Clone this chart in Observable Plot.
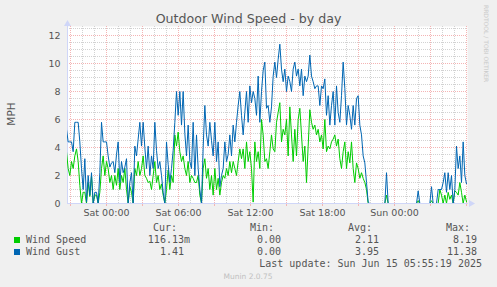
<!DOCTYPE html>
<html>
<head>
<meta charset="utf-8">
<script src="https://cdn.jsdelivr.net/npm/d3@7"></script>
<script src="https://cdn.jsdelivr.net/npm/@observablehq/plot@0.6"></script>
<style>
  html, body { margin: 0; padding: 0; background: #F0F0F0; }
  #chart { width: 497px; height: 287px; background: #F0F0F0; }
  svg { display: block; overflow: visible; }
</style>
</head>
<body>
<div id="chart"></div>
<script>
// ---- Data (MPH), one sample every 5/36 h, starting Fri 20:40 ----
const startHour = -40 / 12;   // hours relative to Sat 00:00
const stepHours = 5 / 36;

const speedMph = [
  3.7,2.5,2.0,3.0,2.5,3.4,3.9,3.0,1.3,0,
  0.8,0.8,0,1.5,0.5,2.0,0,0.6,0.6,0,
  0.8,2.5,3.4,2.0,3.0,2.5,1.5,2.0,1.0,2.0,
  1.3,2.5,1.0,2.0,1.5,2.5,1.0,0,1.2,0.8,
  0,2.5,2.0,3.0,2.0,2.5,3.4,2.0,1.8,1.5,
  1.6,1.0,2.0,3.0,1.5,2.0,1.0,1.4,0.6,0,
  1.0,2.4,1.0,2.0,1.5,4.9,4.1,5.1,3.7,3.0,
  3.4,2.5,2.0,3.0,1.5,2.0,1.8,1.5,1.5,2.0,
  0.6,0,2.5,3.2,1.8,2.5,1.0,2.0,0.6,2.5,
  1.0,1.8,0.6,1.5,2.0,1.8,2.5,2.0,3.0,2.2,
  3.0,2.5,2.0,3.0,3.9,3.2,3.9,2.5,4.4,3.0,
  3.7,2.5,0.1,4.4,3.0,3.7,2.5,6.0,4.9,3.0,
  3.2,
  2.5,3.7,4.9,3.9,3.7,5.8,6.5,7.2,4.4,5.3,4.9,6.0,3.4,6.9,4.9,3.0,5.3,3.4,6.0,6.8,
  4.9,3.0,4.1,1.5,4.1,6.7,5.8,5.3,5.6,4.9,5.3,4.4,4.9,3.9,6.0,3.7,4.1,3.9,4.4,4.6,
  4.9,4.1,4.6,3.2,2.5,3.7,4.4,2.5,3.7,2.9,4.4,2.5,1.5,2.9,2.5,1.8,2.2,1.8,1.5,1.0,
  0,0,0,0,0,0,0,0,0,0,0,0.6,0,0,0,0,0,0,0,0,
  0,0,0,0,0,0,0,0,0,0,0.2,0,0,0,0,0,0,0,0.2,0,
  0,0,0,1.0,0.6,0,0.6,0,0.8,0.3,0.6,0,0.9,0.8,0.6,1.5,0.8,0,0.6,0.12
];

const gustMph = [
  5.3,4.4,4.4,4.4,3.7,5.8,5.8,5.8,4.4,2.5,
  1.0,3.2,0.1,2.0,0.6,2.2,0,0.8,0.8,0,
  2.2,5.8,4.4,4.4,4.4,3.4,2.6,2.9,3.0,2.2,
  3.5,4.4,1.5,3.0,2.2,2.6,3.2,0,1.5,2.2,
  0,4.1,3.4,4.6,5.8,4.1,5.8,4.0,2.5,4.1,
  2.0,3.4,2.5,5.8,3.8,2.5,3.0,2.0,0.8,0,
  4.4,2.8,1.5,2.5,3.8,5.8,8.0,6.3,8.0,5.6,
  8.0,5.0,3.4,5.6,3.0,2.5,5.8,2.0,4.9,2.5,
  1.0,0,4.0,7.0,4.9,4.1,5.8,4.5,3.4,5.8,
  3.0,4.4,1.2,2.0,2.5,4.4,3.0,3.5,4.9,3.4,
  5.6,4.4,5.8,7.0,8.0,6.3,4.9,6.5,8.0,5.8,
  8.4,7.2,8.0,7.5,6.3,9.1,5.8,8.0,9.5,10.1,
  6.8,
  7.0,5.8,6.9,9.1,10.1,9.0,10.3,11.38,9.6,8.7,9.6,8.0,9.1,8.7,8.0,9.6,10.1,9.1,9.6,8.4,
  9.6,7.7,9.1,8.7,9.1,10.6,9.1,8.7,8.2,8.4,8.4,7.0,8.4,8.2,8.9,6.3,7.7,5.6,7.0,8.0,
  5.6,8.4,6.5,5.8,7.7,10.1,8.2,5.6,7.0,6.3,5.3,7.0,5.6,7.5,7.7,5.6,4.9,3.4,2.9,1.5,
  0.1,0,0,0,0,0,0,0,0,0,0,2.2,0,0,0,0,0,0,0,0,
  0,0,0,0,0,0,0,0,0,0,0.9,0,0,0,0,0,0,0,1.2,0,
  0,0,1.0,1.0,1.0,1.5,2.2,0.8,2.2,1.0,2.0,0,1.0,4.1,2.5,3.4,1.5,4.4,2.0,1.41
];

// ---- Axis ticks & labels ----
const xTickHours = [0, 6, 12, 18, 24];
const xTickLabels = ["Sat 00:00", "Sat 06:00", "Sat 12:00", "Sat 18:00", "Sun 00:00"];
const yTicks = [0, 2, 4, 6, 8, 10, 12];

// ---- Legend ----
const seriesNames = ["Wind Speed", "Wind Gust"];
const seriesColors = ["#00CC00", "#0066B3"];
const legendHeaders = ["Cur:", "Min:", "Avg:", "Max:"];
const legendCur = ["116.13m", "1.41"];
const legendMin = ["0.00", "0.00"];
const legendAvg = ["2.11", "3.95"];
const legendMax = ["8.19", "11.38"];
const titleText = "Outdoor Wind Speed - by day";
const yLabel = "MPH";
const lastUpdate = "Last update: Sun Jun 15 05:55:19 2025";
const footer = "Munin 2.0.75";
const sideText = "RRDTOOL / TOBI OETIKER";

// ---- build tables ----
const speedData = speedMph.map((v, i) => ({t: startHour + i * stepHours, v}));
const gustData = gustMph.map((v, i) => ({t: startHour + i * stepHours, v}));

const xMin = -3.25, xMax = 30 + 1 / 12;
const yMax = 177 / 14;
const xMajor = d3.range(-3, 31, 3);
const xMinor = d3.range(-3, 31, 1).filter(h => h % 3 !== 0);
const yMajor = [2, 4, 6, 8, 10, 12];
const yMinor = d3.range(0.5, 12.6, 0.5).filter(v => v % 2 !== 0);

const axisCol = "#CFD6F8";
const minorCol = "#d2d2d2";
const majorCol = "#f4b4b4";
const fontCol = "#555";

const plot = Plot.plot({
  width: 497,
  height: 287,
  marginTop: 26,
  marginBottom: 84,
  marginLeft: 67,
  marginRight: 30,
  style: {background: "transparent", fontFamily: "DejaVu Sans", fontSize: "9.5px", color: fontCol, overflow: "visible"},
  x: {type: "linear", domain: [xMin, xMax], axis: null},
  y: {type: "linear", domain: [0, yMax], axis: null},
  marks: [
    Plot.frame({fill: "white", stroke: "none"}),
    Plot.ruleX(xMinor, {stroke: minorCol, strokeDasharray: "1,1"}),
    Plot.ruleY(yMinor, {stroke: minorCol, strokeDasharray: "1,1"}),
    Plot.ruleX(xMajor, {stroke: majorCol, strokeDasharray: "1,1"}),
    Plot.ruleY(yMajor, {stroke: majorCol, strokeDasharray: "1,1"}),
    Plot.ruleX(xMajor, {y1: 0, y2: -3 / 14, stroke: majorCol}),
    Plot.ruleX([xMin], {y1: 0, y2: yMax, stroke: axisCol}),
    Plot.ruleY([0], {x1: xMin, x2: xMax + 1 / 12, stroke: axisCol}),
    Plot.dot([{t: xMin, v: (203 - 23.5) / 14}], {x: "t", y: "v", symbol: "triangle", r: 2.6, fill: axisCol, stroke: "none"}),
    Plot.dot([{t: xMax + 3.5 / 12, v: 0}], {x: "t", y: "v", symbol: "triangle", r: 2.6, rotate: 90, fill: axisCol, stroke: "none"}),
    Plot.line(speedData, {x: "t", y: "v", stroke: seriesColors[0], strokeWidth: 1, clip: true}),
    Plot.line(gustData, {x: "t", y: "v", stroke: seriesColors[1], strokeWidth: 1, clip: true}),
    Plot.axisY({ticks: yTicks, tickSize: 0, tickPadding: 7, label: null, fill: fontCol, fontSize: 9.5}),
    Plot.axisX({ticks: xTickHours, tickSize: 0, tickPadding: 6, label: null, fill: fontCol, fontSize: 9.5,
      tickFormat: d => xTickLabels[xTickHours.indexOf(d)]})
  ]
});

document.getElementById("chart").appendChild(plot);

// ---- texts around the plot ----
const svg = d3.select(plot);
const sans = "DejaVu Sans";
const mono = "DejaVu Sans Mono";
function addText(str, x, y, o = {}) {
  return svg.append("text")
    .attr("x", x).attr("y", y)
    .attr("fill", o.fill || fontCol)
    .attr("font-family", o.family || sans)
    .attr("font-size", o.size || 10)
    .attr("text-anchor", o.anchor || "start")
    .attr("transform", o.transform || null)
    .style("white-space", "pre")
    .text(str);
}

addText(titleText, 248.5, 23, {size: 12.6, anchor: "middle"});
addText(yLabel, 0, 0, {size: 10.5, anchor: "middle", transform: "translate(15,114) rotate(-90)"});
addText(sideText, 0, 0, {size: 6, fill: "#cacaca", transform: "translate(484,5) rotate(90)"});

const headerRight = [177, 274, 372, 470];
legendHeaders.forEach((h, i) => addText(h, headerRight[i], 231, {family: mono, anchor: "end"}));

const rowY = [243, 255];
seriesNames.forEach((name, i) => {
  svg.append("rect").attr("x", 14).attr("y", rowY[i] - 6).attr("width", 6).attr("height", 6).attr("fill", seriesColors[i]);
  addText(name, 26, rowY[i], {family: mono});
  const cur = legendCur[i];
  const hasSuffix = /[a-zA-Z]$/.test(cur);
  addText(cur, hasSuffix ? 190 : 184, rowY[i], {family: mono, anchor: "end"});
  addText(legendMin[i], 281, rowY[i], {family: mono, anchor: "end"});
  addText(legendAvg[i], 379, rowY[i], {family: mono, anchor: "end"});
  addText(legendMax[i], 477, rowY[i], {family: mono, anchor: "end"});
});
addText(lastUpdate, 482, 267, {family: mono, anchor: "end"});
addText(footer, 248, 279, {size: 7.5, anchor: "middle", fill: "#c0c0c0"});
</script>
</body>
</html>
